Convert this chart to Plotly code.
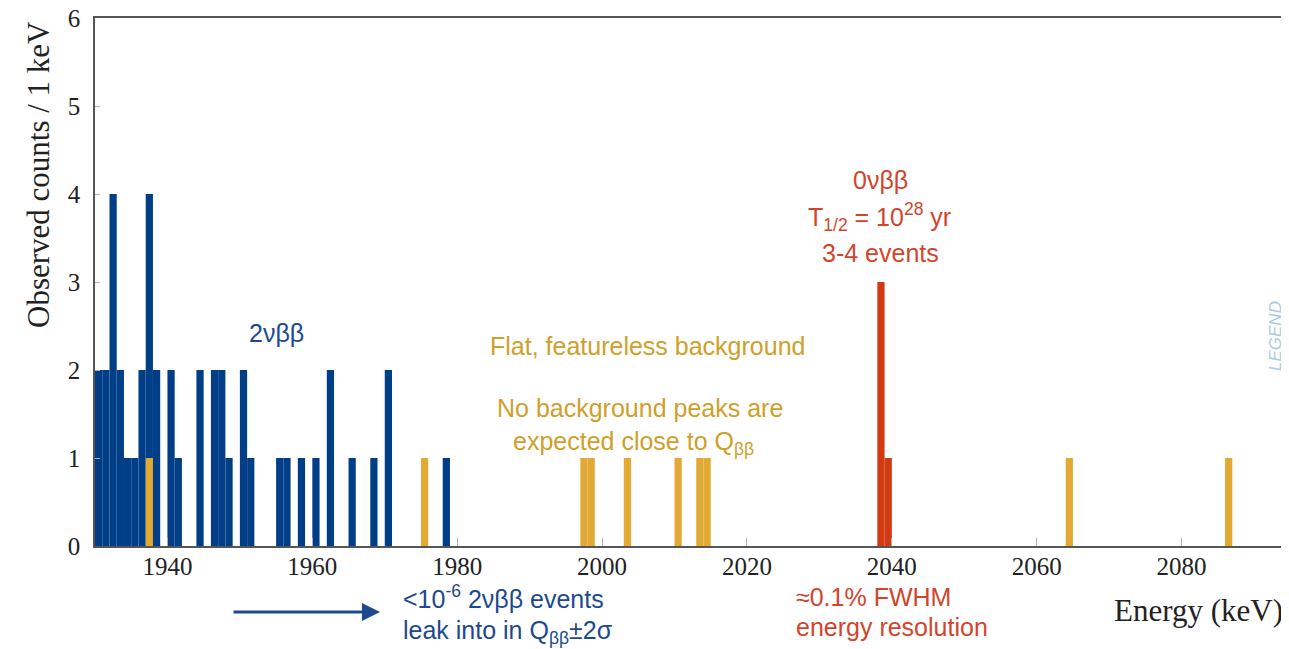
import plotly.graph_objects as go

# ---- data (1 keV bins, left edges) ----
blue_bins = [1930, 1931, 1932, 1933, 1934, 1935, 1936, 1937, 1938, 1940, 1941,
             1944, 1946, 1947, 1948, 1950, 1951, 1955, 1956, 1958, 1960, 1962,
             1965, 1968, 1970, 1978]
blue_counts = [2, 2, 4, 2, 1, 1, 2, 4, 2, 2, 1,
               2, 2, 2, 1, 2, 1, 1, 1, 1, 1, 2,
               1, 1, 2, 1]
yellow_bins = [1937, 1975, 1997, 1998, 2003, 2010, 2013, 2014, 2064, 2086]
yellow_counts = [1, 1, 1, 1, 1, 1, 1, 1, 1, 1]
red_bins = [2038, 2039]
red_counts = [3, 1]

x_ticks = [1940, 1960, 1980, 2000, 2020, 2040, 2060, 2080]
y_ticks = [0, 1, 2, 3, 4, 5, 6]

BLUE = "#003f87"
YELLOW = "#e2a935"
RED = "#d23a12"
TXT_BLUE = "#1d4a8c"
TXT_YEL = "#cfa02a"
TXT_RED = "#d2452c"

# page has an 8px body margin: lay the figure out in screen pixels minus O
O = 8
W, H = 1289 - O, 649 - O
L, R, T, B = 95 - O, 6, 18 - O, 103
PW, PH = W - L - R, H - T - B


def px(x):
    return (x - O - L) / PW


def py(y):
    return (H - B - (y - O)) / PH


fig = go.Figure()
for bins, counts, col in [(blue_bins, blue_counts, BLUE),
                          (red_bins, red_counts, RED),
                          (yellow_bins, yellow_counts, YELLOW)]:
    fig.add_trace(go.Bar(x=[b + 0.5 for b in bins], y=counts, width=1,
                         marker=dict(color=col, line=dict(width=0)),
                         showlegend=False))

serif = "Liberation Serif"
sans = "Liberation Sans"

fig.update_layout(
    width=W, height=H, barmode="overlay",
    margin=dict(l=L, r=R, t=T, b=B, autoexpand=False),
    paper_bgcolor="white", plot_bgcolor="white",
    xaxis=dict(range=[1930, 2094], tickvals=x_ticks, ticks="inside", ticklen=8,
               tickcolor="#b0b0b0", showgrid=False, zeroline=False,
               showline=True, linecolor="#555555", linewidth=1.5, mirror=True,
               ticklabeloverflow="allow", ticklabelstandoff=-3,
               tickfont=dict(family=serif, size=25, color="#222222")),
    yaxis=dict(range=[0, 6], tickvals=y_ticks, ticks="inside", ticklen=5,
               tickcolor="#b0b0b0", showgrid=False, zeroline=False,
               showline=True, linecolor="#555555", linewidth=1.5, mirror=True,
               ticklabelstandoff=8, ticklabeloverflow="allow",
               tickfont=dict(family=serif, size=25, color="#222222")),
)

ann = []


def text(x, y, s, color, size=25, family=sans, xanchor="center", angle=0):
    ann.append(dict(x=px(x), y=py(y), xref="paper", yref="paper", text=s,
                    showarrow=False, xanchor=xanchor, yanchor="middle",
                    textangle=angle,
                    font=dict(family=family, size=size, color=color)))


text(38, 175, "Observed counts / 1 keV", "#222222", size=31, family=serif, angle=-90)
text(1198, 610, "Energy (keV)", "#222222", size=31, family=serif)

text(276, 333, "2νββ", TXT_BLUE)
text(647, 346, "Flat, featureless background", TXT_YEL)
text(640, 408, "No background peaks are", TXT_YEL)
text(633, 443, "expected close to Q<sub>ββ</sub>", TXT_YEL)
text(880, 180, "0νββ", TXT_RED)
text(879, 217, "T<sub>1/2</sub> = 10<sup>28</sup> yr", TXT_RED)
text(880, 253, "3-4 events", TXT_RED)
text(401, 597, "&lt;10<sup>-6</sup> 2νββ events", TXT_BLUE, xanchor="left")
text(401, 632, "leak into in Q<sub>ββ</sub>±2σ", TXT_BLUE, xanchor="left")
text(794, 597, "≈0.1% FWHM", TXT_RED, xanchor="left")
text(794, 627, "energy resolution", TXT_RED, xanchor="left")
text(1275, 336, "<i>LEGEND</i>", "#a9cde0", size=17, angle=-90)

# arrow
ann.append(dict(x=px(380), y=py(612), xref="paper", yref="paper",
                ax=-148, ay=0, axref="pixel", ayref="pixel", text="",
                showarrow=True, arrowhead=2, arrowsize=1.2, arrowwidth=3,
                arrowcolor=TXT_BLUE))

fig.update_layout(annotations=ann)
fig.write_html("out.html")
